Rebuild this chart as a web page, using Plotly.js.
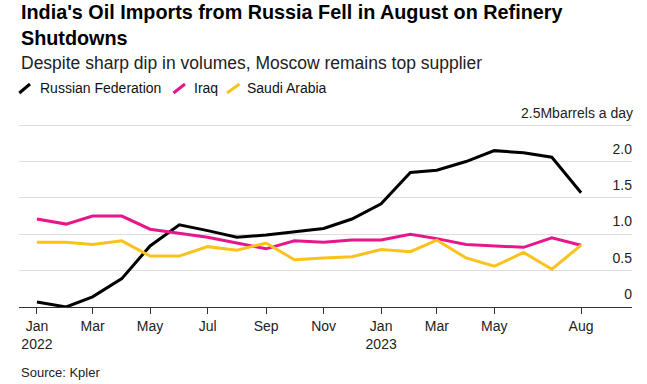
<!DOCTYPE html>
<html>
<head>
<meta charset="utf-8">
<script src="https://cdn.plot.ly/plotly-3.0.1.min.js"></script>
<style>html,body{margin:0;padding:0;background:#fff;}#chart{width:647px;height:384px;}</style>
</head>
<body>
<div id="chart"></div>
<script>
// ---- Data (million barrels a day) ----
const months = ["2022-01-01","2022-02-01","2022-03-01","2022-04-01","2022-05-01","2022-06-01","2022-07-01","2022-08-01","2022-09-01","2022-10-01","2022-11-01","2022-12-01","2023-01-01","2023-02-01","2023-03-01","2023-04-01","2023-05-01","2023-06-01","2023-07-01","2023-08-01"];
const russia = [0.07, 0.00, 0.14, 0.39, 0.84, 1.13, 1.05, 0.96, 0.99, 1.03, 1.08, 1.21, 1.42, 1.85, 1.88, 2.00, 2.15, 2.12, 2.06, 1.57];
const iraq   = [1.21, 1.14, 1.25, 1.25, 1.07, 1.01, 0.96, 0.88, 0.80, 0.91, 0.89, 0.92, 0.92, 1.00, 0.94, 0.86, 0.845, 0.82, 0.95, 0.85];
const saudi  = [0.89, 0.89, 0.86, 0.91, 0.70, 0.70, 0.83, 0.78, 0.88, 0.65, 0.675, 0.69, 0.79, 0.76, 0.92, 0.675, 0.56, 0.75, 0.52, 0.85];
const seriesNames = ["Russian Federation", "Iraq", "Saudi Arabia"];
const xTickVals = ["2022-01-01","2022-03-01","2022-05-01","2022-07-01","2022-09-01","2022-11-01","2023-01-01","2023-03-01","2023-05-01","2023-08-01"];
const xTickText = ["Jan<br>2022","Mar","May","Jul","Sep","Nov","Jan<br>2023","Mar","May","Aug"];
const yTickVals = [0, 0.5, 1.0, 1.5, 2.0, 2.5];
const yTickText = ["0", "0.5", "1.0", "1.5", "2.0", ""];
const yTopLabel = "2.5Mbarrels a day";
const yTopValue = 2.5;

const colors = ["#000000", "#e8168b", "#f9c21c"];
const FONT = "Liberation Sans, Arial, sans-serif";

// plot area geometry (px)
const W = 647, H = 384;
const M = {l: 19, r: 15, t: 107, b: 77};
const pw = W - M.l - M.r, ph = H - M.t - M.b;
const px = x => (x - M.l) / pw;
const py = y => (H - M.b - y) / ph;

const data = [russia, iraq, saudi].map((vals, i) => ({
  type: "scatter", mode: "lines", x: months, y: vals, name: seriesNames[i],
  line: {color: colors[i], width: 3}, showlegend: false, hoverinfo: "skip"
}));

// legend (icons + labels)
const legendIcons = [[19.3, 30], [173.5, 185], [227, 239.5]];
const legendText = [38.3, 191.7, 245];
const shapes = legendIcons.map((p, i) => ({
  type: "line", xref: "paper", yref: "paper",
  x0: px(p[0]), y0: py(93), x1: px(p[1]), y1: py(84),
  line: {color: colors[i], width: 3}
}));
const annotations = seriesNames.map((n, i) => ({
  xref: "paper", yref: "paper", x: px(legendText[i]), y: py(87.5),
  xanchor: "left", yanchor: "middle", showarrow: false, text: n,
  font: {family: FONT, size: 14, color: "#111"}
}));
annotations.push({
  xref: "paper", yref: "paper", x: px(19), y: py(25), xanchor: "left", yanchor: "middle",
  showarrow: false, align: "left",
  text: "<b>India's Oil Imports from Russia Fell in August on Refinery<br>Shutdowns</b>",
  font: {family: FONT, size: 19.8, color: "#000"}
});
annotations.push({
  xref: "paper", yref: "paper", x: px(19), y: py(63), xanchor: "left", yanchor: "middle",
  showarrow: false, text: "Despite sharp dip in volumes, Moscow remains top supplier",
  font: {family: FONT, size: 17.5, color: "#222"}
});
annotations.push({
  xref: "paper", yref: "paper", x: px(19), y: py(372), xanchor: "left", yanchor: "middle",
  showarrow: false, text: "Source: Kpler",
  font: {family: FONT, size: 13, color: "#222"}
});
annotations.push({
  xref: "paper", yref: "y", x: 1, y: yTopValue, xanchor: "right", yanchor: "bottom",
  xshift: 3, yshift: 2, showarrow: false, text: yTopLabel,
  font: {family: FONT, size: 14, color: "#222"}
});

const layout = {
  width: W, height: H, margin: M,
  paper_bgcolor: "#fff", plot_bgcolor: "#fff",
  font: {family: FONT, size: 14, color: "#222"},
  xaxis: {
    type: "date", range: ["2021-12-13", "2023-09-24"],
    tickvals: xTickVals, ticktext: xTickText,
    showgrid: false, zeroline: false,
    showline: true, linecolor: "#333", linewidth: 1,
    ticks: "outside", ticklen: 6, tickcolor: "#333", tickwidth: 1,
    tickfont: {family: FONT, size: 14, color: "#222"}
  },
  yaxis: {
    range: [0, 2.75], side: "right",
    tickvals: yTickVals, ticktext: yTickText,
    ticklabelposition: "inside top",
    ticklabelstandoff: -3, ticklabelshift: -3,
    showgrid: true, gridcolor: "#dedede", gridwidth: 1,
    zeroline: false, showline: false, ticks: "",
    tickfont: {family: FONT, size: 14, color: "#222"}
  },
  shapes: shapes, annotations: annotations, showlegend: false
};

Plotly.newPlot("chart", data, layout, {displayModeBar: false, staticPlot: true});
</script>
</body>
</html>
